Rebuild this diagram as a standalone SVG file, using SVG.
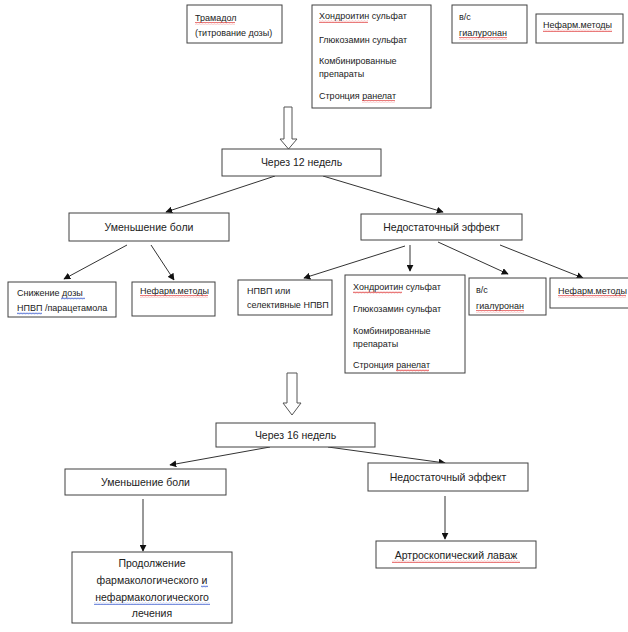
<svg xmlns="http://www.w3.org/2000/svg" width="628" height="632" viewBox="0 0 628 632">
<style>
.box{fill:#fff;stroke:#404040;stroke-width:1}
.t{font-family:"Liberation Sans","Noto Sans",sans-serif;font-size:9px;fill:#222}
.m{font-family:"Liberation Sans","Noto Sans",sans-serif;font-size:10.5px;fill:#222}
.c{text-anchor:middle}
.ln{stroke:#333;stroke-width:1;fill:none}
.hollow{fill:#fff;stroke:#555;stroke-width:1}
</style>
<defs>
<marker id="ah" viewBox="0 0 10 10" refX="9" refY="5" markerWidth="7" markerHeight="7" markerUnits="userSpaceOnUse" orient="auto">
<path d="M0,0 L10,5 L0,10 z" fill="#111"/>
</marker>
<pattern id="wr" width="3" height="3" patternUnits="userSpaceOnUse">
<path d="M0,2.2 L0.75,0.8 L1.5,2.2 L2.25,0.8 L3,2.2" fill="none" stroke="#e04040" stroke-width="0.7"/>
</pattern>
<pattern id="wb" width="3" height="3" patternUnits="userSpaceOnUse">
<path d="M0,2.2 L0.75,0.8 L1.5,2.2 L2.25,0.8 L3,2.2" fill="none" stroke="#4060d0" stroke-width="0.7"/>
</pattern>
</defs>

<g id="connectors">
<path class="hollow" d="M284,107 H292 V139 H297 L288.5,149 L280,139 H284 Z"/>
<path class="hollow" d="M287,373 H297 V403 H301 L292,415 L283,403 H287 Z"/>
<line class="ln" x1="275" y1="176" x2="166" y2="212" marker-end="url(#ah)"/>
<line class="ln" x1="323" y1="176" x2="443" y2="212" marker-end="url(#ah)"/>
<line class="ln" x1="127" y1="245" x2="64" y2="279" marker-end="url(#ah)"/>
<line class="ln" x1="151" y1="245" x2="174" y2="280" marker-end="url(#ah)"/>
<line class="ln" x1="405" y1="246" x2="304" y2="278" marker-end="url(#ah)"/>
<line class="ln" x1="410" y1="245" x2="410" y2="271" marker-end="url(#ah)"/>
<line class="ln" x1="438" y1="242" x2="508" y2="274" marker-end="url(#ah)"/>
<line class="ln" x1="500" y1="245" x2="583" y2="278" marker-end="url(#ah)"/>
<line class="ln" x1="270" y1="447" x2="170" y2="465" marker-end="url(#ah)"/>
<line class="ln" x1="328" y1="447" x2="445" y2="463" marker-end="url(#ah)"/>
<line class="ln" x1="143" y1="499" x2="143" y2="551" marker-end="url(#ah)"/>
<line class="ln" x1="445" y1="496" x2="445" y2="539" marker-end="url(#ah)"/>
</g>

<g id="n-tramadol">
<rect class="box" x="187" y="5" width="95" height="38"/>
<text class="t" x="195" y="21">Трамадол</text>
<text class="t" x="195" y="36">(титрование дозы)</text>
<rect x="195" y="22" width="40" height="3" fill="url(#wr)"/>
</g>

<g id="n-chondro1">
<rect class="box" x="312" y="5" width="119" height="103"/>
<text class="t" x="319" y="19">Хондроитин сульфат</text>
<text class="t" x="319" y="43">Глюкозамин сульфат</text>
<text class="t" x="319" y="64">Комбинированные</text>
<text class="t" x="319" y="77">препараты</text>
<text class="t" x="319" y="99">Стронция ранелат</text>
<rect x="319" y="20" width="49" height="3" fill="url(#wr)"/>
<rect x="362" y="100" width="33" height="3" fill="url(#wr)"/>
</g>

<g id="n-hyal1">
<rect class="box" x="452" y="5" width="75" height="38"/>
<text class="t" x="459" y="20">в/с</text>
<text class="t" x="459" y="36">гиалуронан</text>
<rect x="459" y="37" width="48" height="3" fill="url(#wr)"/>
</g>

<g id="n-nefarm1">
<rect class="box" x="536" y="14" width="87" height="29"/>
<text class="t" x="543" y="28">Нефарм.методы</text>
<rect x="543" y="29" width="69" height="3" fill="url(#wr)"/>
</g>

<g id="n-12w">
<rect class="box" x="222" y="149" width="159" height="27"/>
<text class="m c" x="301.5" y="166">Через 12 недель</text>
</g>

<g id="n-reduce1">
<rect class="box" x="69" y="213" width="160" height="28"/>
<text class="m c" x="149" y="231">Уменьшение боли</text>
</g>

<g id="n-insuf1">
<rect class="box" x="361" y="214" width="161" height="26"/>
<text class="m c" x="441.5" y="231">Недостаточный эффект</text>
</g>

<g id="n-dose">
<rect class="box" x="8" y="282" width="108" height="35"/>
<text class="t" x="17" y="296">Снижение дозы</text>
<text class="t" x="17" y="311">НПВП /парацетамола</text>
<rect x="61" y="297" width="24" height="3" fill="url(#wb)"/>
<rect x="17" y="312" width="25" height="3" fill="url(#wb)"/>
</g>

<g id="n-nefarm2">
<rect class="box" x="132" y="282" width="83" height="34"/>
<text class="t" x="140" y="294">Нефарм.методы</text>
<rect x="140" y="295" width="68" height="3" fill="url(#wr)"/>
</g>

<g id="n-nsaid">
<rect class="box" x="238" y="280" width="94" height="35"/>
<text class="t" x="247" y="294">НПВП или</text>
<text class="t" x="247" y="308">селективные НПВП</text>
</g>

<g id="n-chondro2">
<rect class="box" x="345" y="275" width="120" height="98"/>
<text class="t" x="353" y="290">Хондроитин сульфат</text>
<text class="t" x="353" y="312">Глюкозамин сульфат</text>
<text class="t" x="353" y="334">Комбинированные</text>
<text class="t" x="353" y="347">препараты</text>
<text class="t" x="353" y="368">Стронция ранелат</text>
<rect x="353" y="291" width="49" height="3" fill="url(#wr)"/>
<rect x="396" y="369" width="33" height="3" fill="url(#wr)"/>
</g>

<g id="n-hyal2">
<rect class="box" x="469" y="278" width="77" height="37"/>
<text class="t" x="476" y="293">в/с</text>
<text class="t" x="476" y="309">гиалуронан</text>
<rect x="476" y="310" width="48" height="3" fill="url(#wr)"/>
</g>

<g id="n-nefarm3">
<rect class="box" x="550" y="278" width="82" height="30"/>
<text class="t" x="558" y="294">Нефарм.методы</text>
<rect x="558" y="295" width="68" height="3" fill="url(#wr)"/>
</g>

<g id="n-16w">
<rect class="box" x="216" y="423" width="159" height="24"/>
<text class="m c" x="295.5" y="439">Через 16 недель</text>
</g>

<g id="n-reduce2">
<rect class="box" x="65" y="469" width="161" height="26"/>
<text class="m c" x="145.5" y="486">Уменьшение боли</text>
</g>

<g id="n-insuf2">
<rect class="box" x="368" y="463" width="160" height="28"/>
<text class="m c" x="448" y="481">Недостаточный эффект</text>
</g>

<g id="n-continue">
<rect class="box" x="72" y="552" width="160" height="71"/>
<text class="m c" x="152" y="567">Продолжение</text>
<text class="m c" x="152" y="584">фармакологического и</text>
<text class="m c" x="152" y="601">нефармакологического</text>
<text class="m c" x="152" y="617">лечения</text>
<rect x="201" y="585" width="7" height="3" fill="url(#wb)"/>
<rect x="94" y="602" width="116" height="3" fill="url(#wb)"/>
</g>

<g id="n-lavage">
<rect class="box" x="376" y="541" width="160" height="27"/>
<text class="m c" x="456" y="559">Артроскопический лаваж</text>
<rect x="392" y="560" width="128" height="3" fill="url(#wr)"/>
</g>
</svg>
